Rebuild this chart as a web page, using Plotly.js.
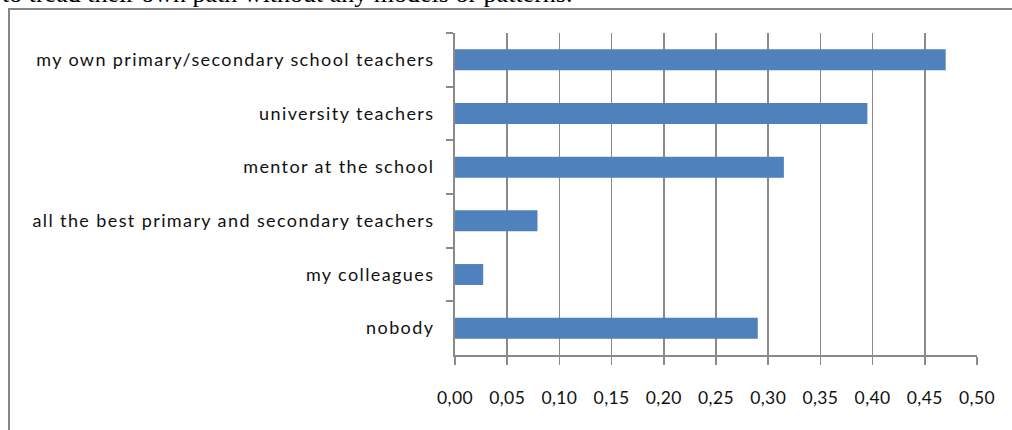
<!DOCTYPE html>
<html>
<head>
<meta charset="utf-8">
<script src="https://cdn.plot.ly/plotly-3.0.1.min.js"></script>
<style>
html,body{margin:0;padding:0;background:#fff;overflow:hidden;}
#chart{width:1012px;height:430px;}
#chart g.ytick text{letter-spacing:1.4px;}
#chart g.xtick text{letter-spacing:0.4px;}
</style>
</head>
<body>
<div id="chart"></div>
<script>
var categories = [
  "my own primary/secondary school teachers",
  "university teachers",
  "mentor at the school",
  "all the best primary and secondary teachers",
  "my colleagues",
  "nobody"
];
var values = [0.47, 0.395, 0.315, 0.079, 0.027, 0.29];
var xTicks = [0, 0.05, 0.10, 0.15, 0.20, 0.25, 0.30, 0.35, 0.40, 0.45, 0.50];
var captionText = "to tread their own path without any models or patterns.";

var W = 1012, H = 430;
var L = 455, R = 977, T = 33, B = 355;
function px(x){ return (x - L) / (R - L); }
function py(y){ return (B - y) / (B - T); }

var trace = {
  type: 'bar',
  orientation: 'h',
  x: values,
  y: categories,
  marker: {color: '#4F81BD', line: {width: 0}},
  hoverinfo: 'x+y'
};

var layout = {
  width: W, height: H,
  margin: {l: L, r: W - R, t: T, b: H - B, pad: 0},
  paper_bgcolor: '#fff',
  plot_bgcolor: '#fff',
  separators: ', ',
  bargap: 0.61,
  showlegend: false,
  font: {family: 'Lato, "Open Sans", sans-serif', size: 18, color: '#111'},
  xaxis: {
    range: [0, 0.5],
    tickvals: xTicks,
    tickformat: '.2f',
    showgrid: true,
    gridcolor: '#8a8a8a',
    gridwidth: 1.8,
    zeroline: false,
    showline: true,
    linecolor: '#8a8a8a',
    linewidth: 1.8,
    ticks: 'outside',
    ticklen: 8,
    tickwidth: 1.8,
    tickcolor: '#8a8a8a',
    ticklabelstandoff: 18,
    tickfont: {family: 'Lato, "Open Sans", sans-serif', size: 17.5, color: '#111'},
    fixedrange: true
  },
  yaxis: {
    type: 'category',
    categoryorder: 'array',
    categoryarray: categories,
    autorange: 'reversed',
    showgrid: false,
    zeroline: false,
    showline: true,
    linecolor: '#8a8a8a',
    linewidth: 2,
    ticks: 'outside',
    tickson: 'boundaries',
    ticklen: 7,
    tickwidth: 1.8,
    tickcolor: '#8a8a8a',
    ticklabelstandoff: 15,
    tickfont: {family: 'Lato, "Open Sans", sans-serif', size: 18, color: '#111'},
    fixedrange: true
  },
  shapes: [{
    type: 'rect', xref: 'paper', yref: 'paper',
    x0: px(9), x1: px(1030), y0: py(9), y1: py(450),
    line: {color: '#868686', width: 2},
    fillcolor: 'rgba(0,0,0,0)',
    layer: 'below'
  }],
  annotations: [{
    text: captionText,
    xref: 'paper', yref: 'paper',
    x: px(0), y: py(-6),
    xanchor: 'left', yanchor: 'middle',
    showarrow: false,
    font: {family: '"Liberation Serif", "DejaVu Serif", serif', size: 26, color: '#000'}
  }]
};

Plotly.newPlot('chart', [trace], layout, {staticPlot: true, displayModeBar: false});
</script>
</body>
</html>
